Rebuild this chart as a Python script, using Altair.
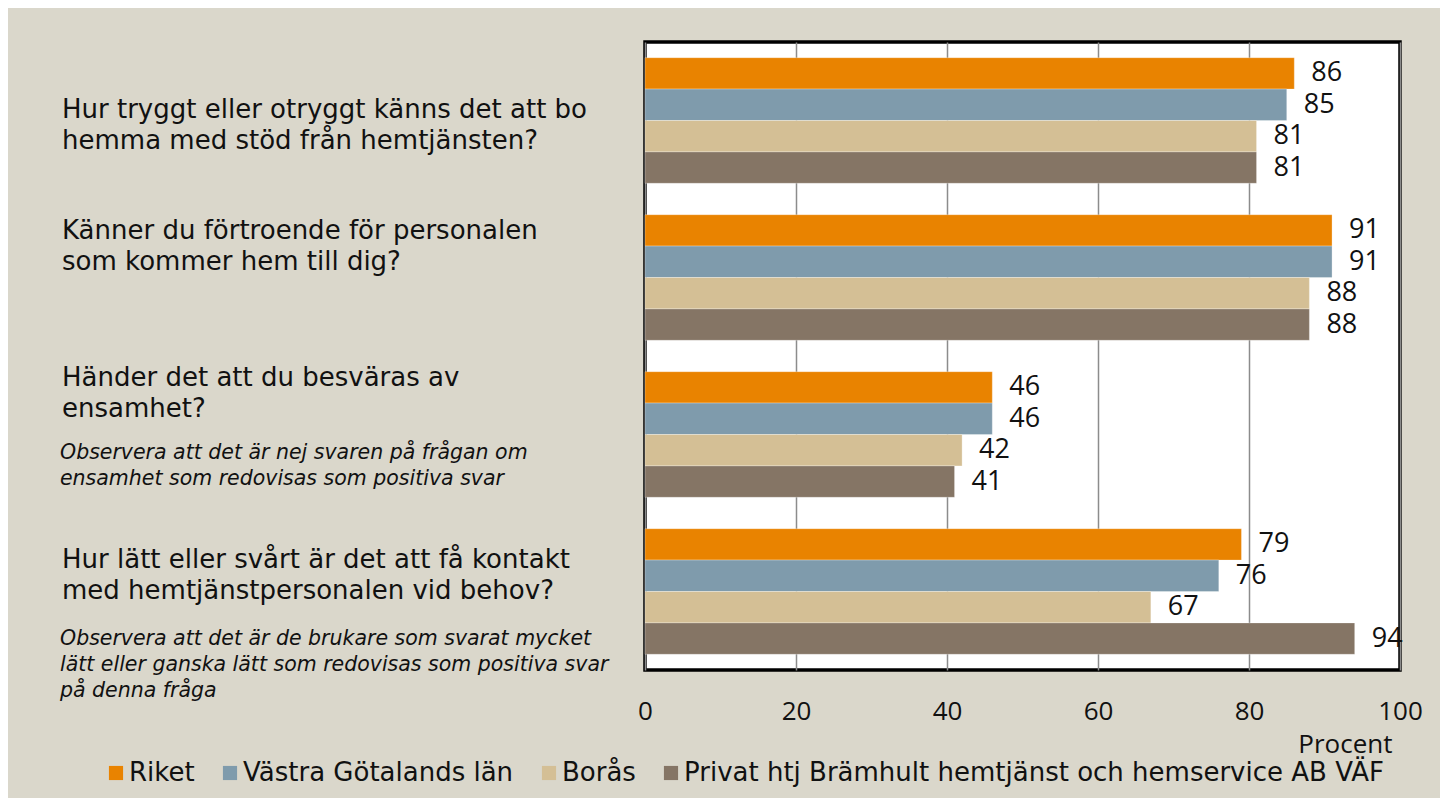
import altair as alt
import pandas as pd

qkeys = ["Q1", "Q2", "Q3", "Q4"]
question_lines = [
    "Hur tryggt eller otryggt känns det att bo\nhemma med stöd från hemtjänsten?",
    "Känner du förtroende för personalen\nsom kommer hem till dig?",
    "Händer det att du besväras av\nensamhet?",
    "Hur lätt eller svårt är det att få kontakt\nmed hemtjänstpersonalen vid behov?",
]
notes = [
    "",
    "",
    "Observera att det är nej svaren på frågan om\nensamhet som redovisas som positiva svar",
    "Observera att det är de brukare som svarat mycket\nlätt eller ganska lätt som redovisas som positiva svar\npå denna fråga",
]
series = ["Riket", "Västra Götalands län", "Borås",
          "Privat htj Brämhult hemtjänst och hemservice AB VÄF"]
riket = [86, 91, 46, 79]
vastra = [85, 91, 46, 76]
boras = [81, 88, 42, 67]
bramhult = [81, 88, 41, 94]
colors = ["#E98300", "#7F9BAC", "#D4BF95", "#857565"]
x_ticks = [0, 20, 40, 60, 80, 100]

NUMFONT = "Open Sans"
TXTFONT = "DejaVu Sans"

rows = []
for s, vals in zip(series, [riket, vastra, boras, bramhult]):
    for q, v in zip(qkeys, vals):
        rows.append({"q": q, "serie": s, "value": v})
df = pd.DataFrame(rows)

yscale = alt.Scale(domain=qkeys, paddingInner=0.2, paddingOuter=0.1)
y_enc = alt.Y("q:N", scale=yscale, axis=None)
yoff = alt.YOffset("serie:N", scale=alt.Scale(domain=series, paddingInner=0, paddingOuter=0))

bars = alt.Chart(df).mark_bar(stroke="#ffffff", strokeWidth=0.6, strokeOpacity=0.5).encode(
    x=alt.X("value:Q",
            scale=alt.Scale(domain=[0, 100], nice=False),
            axis=alt.Axis(values=x_ticks, grid=True, gridColor="#8c8c8c", gridWidth=1.5,
                          ticks=False, domain=False, labelFontSize=26, labelPadding=28,
                          labelFlush=False,
                          labelColor="#111111", labelFont=NUMFONT,
                          title="Procent", titleFont=NUMFONT, titleFontSize=26,
                          titleFontWeight="normal", titleColor="#111111",
                          titleAnchor="end", titleAlign="right", titleBaseline="middle",
                          titleX=747, titleY=74)),
    y=y_enc,
    yOffset=yoff,
    color=alt.Color("serie:N", scale=alt.Scale(domain=series, range=colors),
                    legend=alt.Legend(title=None, orient="none", direction="horizontal",
                                      columns=4, legendX=-542, legendY=718,
                                      symbolType="square", symbolSize=200,
                                      symbolStrokeWidth=0, labelFontSize=26,
                                      labelFont=TXTFONT, labelColor="#111111",
                                      labelLimit=1000, columnPadding=22, labelOffset=0)),
)

values = alt.Chart(df).mark_text(align="left", baseline="middle", dx=17, fontSize=27,
                                 font=NUMFONT, color="#111111").encode(
    x="value:Q",
    y=y_enc,
    yOffset=yoff,
    text="value:Q",
)

layers = [bars, values]
main_dy = [-11, -47, -57, -32]
note_dy = [0, 0, 18, 47]
for i, q in enumerate(qkeys):
    t = alt.Chart(pd.DataFrame({"q": [q], "txt": [question_lines[i]]})).mark_text(
        align="left", baseline="middle", lineBreak="\n", fontSize=26, lineHeight=31.5,
        font=TXTFONT, color="#111111", dy=main_dy[i]).encode(
        x=alt.value(-583), y=y_enc, text="txt:N")
    layers.append(t)
    if notes[i]:
        n = alt.Chart(pd.DataFrame({"q": [q], "txt": [notes[i]]})).mark_text(
            align="left", baseline="middle", lineBreak="\n", fontSize=20.5, lineHeight=26,
            font=TXTFONT, fontStyle="italic", color="#111111", dy=note_dy[i]).encode(
            x=alt.value(-585), y=y_enc, text="txt:N")
        layers.append(n)

chart = alt.layer(*layers).properties(
    width=755, height=628,
    autosize=alt.AutoSizeParams(type="none"),
    padding={"left": 637, "top": 34, "right": 40, "bottom": 128},
    background="#DAD7CB",
).configure_view(stroke="black", strokeWidth=3.5, fill="white")

chart.save("out.html", embed_options={"renderer": "svg", "actions": False})
